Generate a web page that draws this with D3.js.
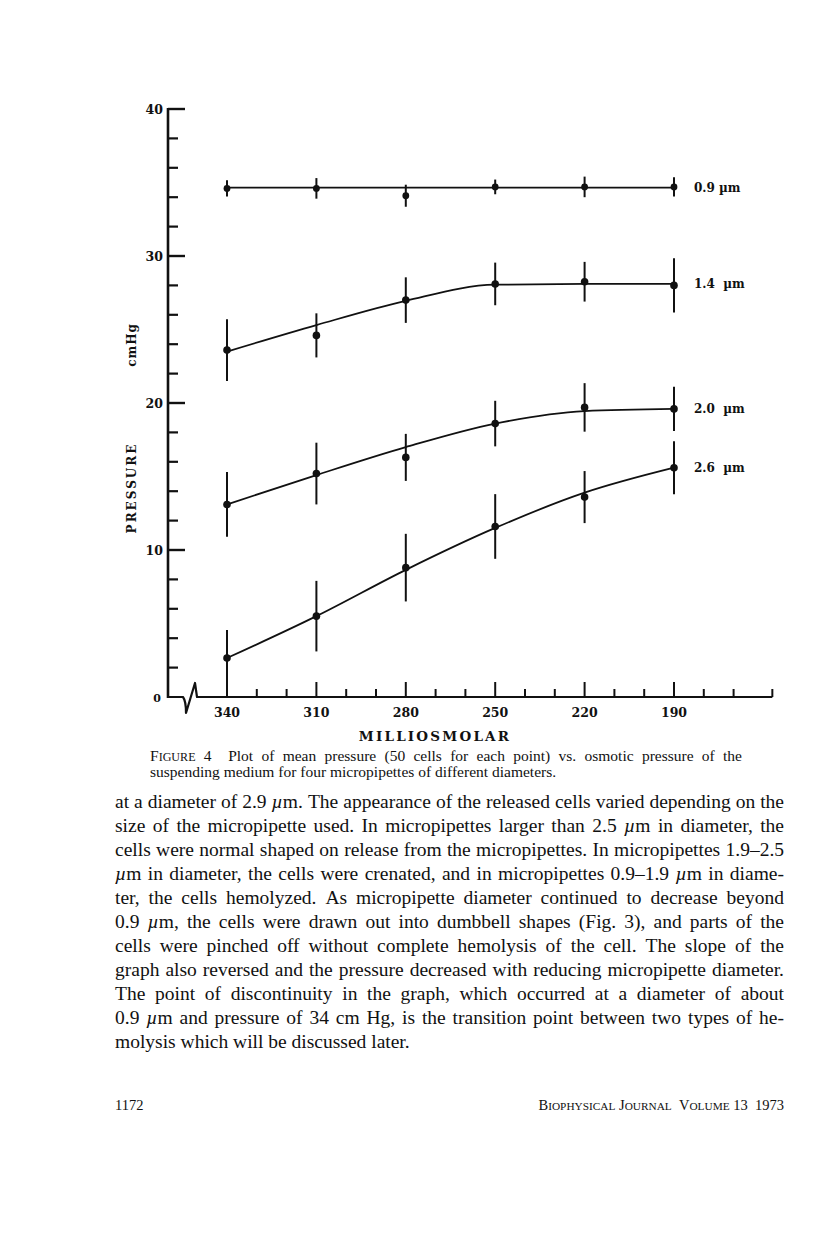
<!DOCTYPE html>
<html><head><meta charset="utf-8">
<script src="https://cdn.jsdelivr.net/npm/d3@7"></script>
<style>
html,body{margin:0;padding:0;background:#fff;}
svg{display:block;}
</style></head>
<body>
<script>
// ---------- data ----------
const osmolarity = [340, 310, 280, 250, 220, 190];
const minorTicks = [330, 320, 300, 290, 270, 260, 240, 230, 210, 200, 180, 170];
const yMajorTicks = [0, 10, 20, 30, 40];
const yMinorTicks = [2, 4, 6, 8, 12, 14, 16, 18, 22, 24, 26, 28, 32, 34, 36, 38];
const seriesNames = ["0.9 µm", "1.4  µm", "2.0  µm", "2.6  µm"];

const mean09 = [34.6, 34.6, 34.1, 34.7, 34.7, 34.7];
const err09  = [0.55, 0.7, 0.75, 0.5, 0.7, 0.65];
const fit09  = [34.65, 34.65, 34.65, 34.65, 34.65, 34.65];

const mean14 = [23.6, 24.6, 27.0, 28.1, 28.25, 28.0];
const err14  = [2.1, 1.5, 1.55, 1.45, 1.35, 1.85];
const fit14  = [23.5, 25.3, 26.95, 28.05, 28.1, 28.1];

const mean20 = [13.1, 15.2, 16.3, 18.6, 19.7, 19.6];
const err20  = [2.2, 2.1, 1.6, 1.55, 1.65, 1.5];
const fit20  = [13.1, 15.1, 17.0, 18.6, 19.45, 19.6];

const mean26 = [2.65, 5.5, 8.8, 11.6, 13.6, 15.6];
const err26  = [1.9, 2.4, 2.3, 2.2, 1.77, 1.8];
const fit26  = [2.65, 5.5, 8.65, 11.5, 13.9, 15.6];

const captionLines = [
  "^Figure 4  Plot of mean pressure (50 cells for each point) vs. osmotic pressure of the",
  "suspending medium for four micropipettes of different diameters."
];
const bodyLines = [
  "at a diameter of 2.9 µm. The appearance of the released cells varied depending on the",
  "size of the micropipette used. In micropipettes larger than 2.5 µm in diameter, the",
  "cells were normal shaped on release from the micropipettes. In micropipettes 1.9–2.5",
  "µm in diameter, the cells were crenated, and in micropipettes 0.9–1.9 µm in diame-",
  "ter, the cells hemolyzed. As micropipette diameter continued to decrease beyond",
  "0.9 µm, the cells were drawn out into dumbbell shapes (Fig. 3), and parts of the",
  "cells were pinched off without complete hemolysis of the cell. The slope of the",
  "graph also reversed and the pressure decreased with reducing micropipette diameter.",
  "The point of discontinuity in the graph, which occurred at a diameter of about",
  "0.9 µm and pressure of 34 cm Hg, is the transition point between two types of he-",
  "molysis which will be discussed later."
];
const footerLeft = "1172";
const footerRight = "^Biophysical ^Journal  ^Volume 13  1973";

// ---------- layout ----------
const W = 816, H = 1233;
const svg = d3.select("body").append("svg").attr("width", W).attr("height", H);

const x = d3.scaleLinear().domain([340, 190]).range([227, 674]);
const y = d3.scaleLinear().domain([0, 40]).range([697, 109]);
const axisX0 = 168, axisEndVal = 157;
const chartFont = "'DejaVu Serif', serif";
const ink = "#111";

const g = svg.append("g");

// y axis line
g.append("line").attr("x1", axisX0).attr("x2", axisX0).attr("y1", y(0) + 1).attr("y2", y(40) - 1)
  .attr("stroke", ink).attr("stroke-width", 2.6);
// y ticks
g.selectAll(".ymaj").data(yMajorTicks.filter(d => d > 0)).enter().append("line")
  .attr("x1", axisX0).attr("x2", axisX0 + 17).attr("y1", d => y(d)).attr("y2", d => y(d))
  .attr("stroke", ink).attr("stroke-width", 2.4);
g.selectAll(".ymin").data(yMinorTicks).enter().append("line")
  .attr("x1", axisX0).attr("x2", axisX0 + 10).attr("y1", d => y(d)).attr("y2", d => y(d))
  .attr("stroke", ink).attr("stroke-width", 2.2);
g.selectAll(".ylab").data(yMajorTicks).enter().append("text")
  .attr("x", d => d === 0 ? 161 : 163).attr("y", d => y(d) + 4.5).attr("text-anchor", "end")
  .attr("font-family", chartFont).attr("font-weight", "bold").attr("font-size", d => d === 0 ? 11 : 12.5)
  .attr("fill", ink).text(d => d);

// x axis baseline with break
const y0 = y(0);
g.append("path")
  .attr("d", `M${axisX0 - 1},${y0} L183,${y0} Q186,${y0 + 4} 186,${y0 + 16} L195,${y0 - 14} L197,${y0} L${x(axisEndVal)},${y0}`)
  .attr("fill", "none").attr("stroke", ink).attr("stroke-width", 2.2).attr("stroke-linejoin", "round");
g.selectAll(".xmaj").data(osmolarity).enter().append("line")
  .attr("x1", d => x(d)).attr("x2", d => x(d)).attr("y1", y0).attr("y2", y0 - 15)
  .attr("stroke", ink).attr("stroke-width", 2);
g.selectAll(".xmin").data(minorTicks.concat([axisEndVal])).enter().append("line")
  .attr("x1", d => x(d)).attr("x2", d => x(d)).attr("y1", y0).attr("y2", y0 - 8)
  .attr("stroke", ink).attr("stroke-width", 2);
g.selectAll(".xlab").data(osmolarity).enter().append("text")
  .attr("x", d => x(d)).attr("y", 717).attr("text-anchor", "middle")
  .attr("font-family", chartFont).attr("font-weight", "bold").attr("font-size", 12.5)
  .attr("fill", ink).text(d => d);

// axis titles
g.append("text").attr("x", 435).attr("y", 741).attr("text-anchor", "middle")
  .attr("font-family", chartFont).attr("font-weight", "bold").attr("font-size", 13.5)
  .attr("letter-spacing", 2.2).attr("fill", ink).text("MILLIOSMOLAR");
g.append("text").attr("transform", "translate(136,488) rotate(-90)").attr("text-anchor", "middle")
  .attr("font-family", chartFont).attr("font-weight", "bold").attr("font-size", 12)
  .attr("letter-spacing", 2).attr("fill", ink).text("PRESSURE");
g.append("text").attr("transform", "translate(136,345) rotate(-90)").attr("text-anchor", "middle")
  .attr("font-family", chartFont).attr("font-weight", "bold").attr("font-size", 12)
  .attr("letter-spacing", 1).attr("fill", ink).text("cmHg");

// series
const series = [
  {name: seriesNames[0], mean: mean09, err: err09, fit: fit09, r: 3.4},
  {name: seriesNames[1], mean: mean14, err: err14, fit: fit14, r: 3.8},
  {name: seriesNames[2], mean: mean20, err: err20, fit: fit20, r: 3.8},
  {name: seriesNames[3], mean: mean26, err: err26, fit: fit26, r: 3.8}
];
const line = d3.line().x((d, i) => x(osmolarity[i])).y(d => y(d)).curve(d3.curveMonotoneX);

series.forEach(s => {
  const sg = g.append("g");
  sg.append("path").attr("d", line(s.fit)).attr("fill", "none").attr("stroke", ink).attr("stroke-width", 1.8);
  sg.selectAll(".eb").data(s.mean).enter().append("line")
    .attr("x1", (d, i) => x(osmolarity[i])).attr("x2", (d, i) => x(osmolarity[i]))
    .attr("y1", (d, i) => y(d + s.err[i])).attr("y2", (d, i) => y(d - s.err[i]))
    .attr("stroke", ink).attr("stroke-width", 2);
  sg.selectAll(".pt").data(s.mean).enter().append("circle")
    .attr("cx", (d, i) => x(osmolarity[i])).attr("cy", d => y(d)).attr("r", s.r).attr("fill", ink);
  const last = s.mean.length - 1;
  sg.append("text").attr("x", 694).attr("y", y(s.fit[last]) + 4.5)
    .attr("font-family", chartFont).attr("font-weight", "bold").attr("font-size", 12)
    .attr("fill", ink).style("white-space", "pre").text(s.name);
});

// ---------- text blocks ----------
const textFont = "'Liberation Serif', 'Times New Roman', serif";
function renderWord(parent, word, fs) {
  const t = parent.append("text").attr("font-family", textFont).attr("font-size", fs).attr("fill", ink);
  let sc = false;
  if (word.startsWith("^")) { sc = true; word = word.slice(1); }
  if (sc) {
    t.append("tspan").text(word[0]);
    t.append("tspan").attr("font-size", fs * 0.78).text(word.slice(1).toUpperCase());
    return t;
  }
  const parts = word.split(/(µ)/).filter(p => p.length);
  parts.forEach(p => {
    const ts = t.append("tspan").text(p);
    if (p === "µ") ts.attr("font-style", "italic");
  });
  return t;
}
function setLine(parent, str, x0, x1, yy, fs, justify) {
  const words = str.split(/ +/);
  const gaps = str.match(/ +/g) || [];
  const nodes = words.map(w => renderWord(parent, w, fs));
  const widths = nodes.map(n => n.node().getComputedTextLength());
  const total = d3.sum(widths);
  const spaceW = fs * 0.25;
  const gapUnits = gaps.map(gp => gp.length);
  const unitSum = d3.sum(gapUnits);
  let unit = justify && unitSum ? (x1 - x0 - total) / unitSum : spaceW;
  let sx = 1;
  if (justify && unit < fs * 0.17) {
    // squeeze glyphs slightly so the line still fits
    unit = fs * 0.17;
    sx = (x1 - x0 - unit * unitSum) / total;
  }
  let cx = x0;
  nodes.forEach((n, i) => {
    n.attr("x", cx / sx).attr("y", yy);
    if (sx !== 1) n.attr("transform", `scale(${sx},1)`);
    cx += widths[i] * sx + (i < gapUnits.length ? gapUnits[i] * unit : 0);
  });
}
const tg = svg.append("g");
captionLines.forEach((l, i) => setLine(tg, l, 150, 742, 761 + i * 16, 15.5, i === 0));
bodyLines.forEach((l, i) => setLine(tg, l, 115, 784, 808 + i * 24, 19.5, i < bodyLines.length - 1));
setLine(tg, footerLeft, 115, 200, 1110, 14.5, false);
// right-aligned footer
(function () {
  const fg = tg.append("g");
  setLine(fg, footerRight, 0, 1000, 1110, 14.5, false);
  const bb = fg.node().getBBox();
  fg.attr("transform", `translate(${784 - (bb.x + bb.width)},0)`);
})();
</script>
</body></html>
